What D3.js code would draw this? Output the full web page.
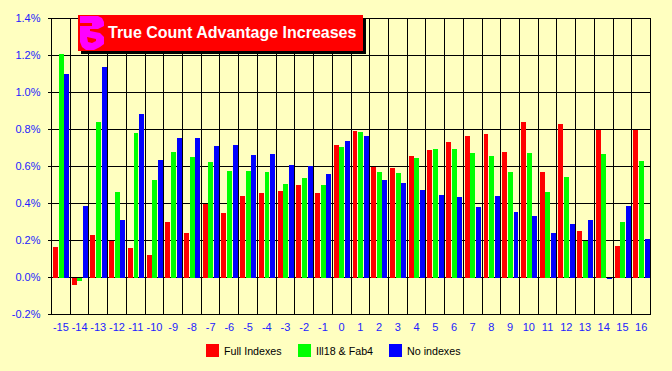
<!DOCTYPE html>
<html>
<head>
  <meta charset="UTF-8" />
  <title>True Count Advantage Increases</title>
  <script src="https://d3js.org/d3.v7.min.js"></script>
  <style>
    body { margin: 0; padding: 0; background: #ffffc0; }
    svg { display: block; }
    text { font-family: "Liberation Sans", Arial, sans-serif; }
  </style>
</head>
<body>
  <div id="chart"></div>
  <script>
    const trueCounts = d3.range(-15, 17).map(String);
    const fullIndexes = [0.165, -0.04, 0.23, 0.20, 0.16, 0.12, 0.30, 0.24, 0.40, 0.35, 0.44, 0.455, 0.47, 0.50, 0.455, 0.715, 0.79, 0.60, 0.59, 0.655, 0.69, 0.73, 0.765, 0.775, 0.68, 0.84, 0.57, 0.83, 0.25, 0.80, 0.17, 0.80];
    const ill18Fab4 = [1.21, -0.02, 0.84, 0.46, 0.78, 0.525, 0.68, 0.65, 0.625, 0.575, 0.575, 0.57, 0.505, 0.54, 0.50, 0.705, 0.785, 0.57, 0.565, 0.645, 0.695, 0.695, 0.675, 0.655, 0.57, 0.675, 0.46, 0.545, 0.195, 0.665, 0.30, 0.63];
    const noIndexes = [1.10, 0.385, 1.14, 0.31, 0.885, 0.635, 0.755, 0.755, 0.71, 0.715, 0.66, 0.665, 0.61, 0.605, 0.56, 0.74, 0.765, 0.525, 0.51, 0.475, 0.445, 0.435, 0.38, 0.44, 0.355, 0.335, 0.24, 0.29, 0.31, -0.01, 0.385, 0.21];
    const seriesNames = ["Full Indexes", "Ill18 & Fab4", "No indexes"];
    const seriesColors = ["#ff0000", "#00ff00", "#0000ff"];
    const yTicks = [-0.2, 0, 0.2, 0.4, 0.6, 0.8, 1.0, 1.2, 1.4];
    const titleText = "True Count Advantage Increases";

    const series = [fullIndexes, ill18Fab4, noIndexes];
    const width = 672, height = 371;
    const margin = { top: 18.5, right: 21.5, bottom: 56.5, left: 51.5 };

    const svg = d3.select("#chart").append("svg")
      .attr("width", width).attr("height", height);

    const x = d3.scaleBand().domain(trueCounts)
      .range([margin.left, width - margin.right]);
    const x1 = d3.scaleBand().domain(d3.range(3))
      .range([1.5, x.bandwidth() - 1]).paddingInner(0.12);
    const y = d3.scaleLinear().domain([-0.2, 1.4])
      .range([height - margin.bottom, margin.top]);

    // grid
    const grid = svg.append("g").attr("stroke", "#000").attr("stroke-width", 1)
      .attr("shape-rendering", "crispEdges");
    grid.selectAll(".h").data(yTicks).enter().append("line")
      .attr("x1", margin.left - 4).attr("x2", width - margin.right)
      .attr("y1", d => y(d)).attr("y2", d => y(d));
    grid.selectAll(".v").data(d3.range(33)).enter().append("line")
      .attr("x1", d => margin.left + d * x.step()).attr("x2", d => margin.left + d * x.step())
      .attr("y1", margin.top).attr("y2", y(-0.2));

    // bars
    series.forEach((vals, s) => {
      svg.append("g").attr("fill", seriesColors[s]).attr("shape-rendering", "crispEdges")
        .selectAll("rect")
        .data(vals).enter().append("rect")
        .attr("x", (d, i) => x(trueCounts[i]) + x1(s))
        .attr("width", x1.bandwidth())
        .attr("y", d => y(Math.max(d, 0)))
        .attr("height", d => Math.abs(y(d) - y(0)));
    });

    // axis labels
    const yAxis = d3.axisLeft(y).tickValues(yTicks)
      .tickFormat(d => d.toFixed(1) + "%").tickSize(0).tickPadding(11);
    svg.append("g").attr("transform", `translate(${margin.left},-0.7)`).call(yAxis)
      .call(g => g.select(".domain").remove())
      .selectAll("text").attr("fill", "#2222ff").style("font-size", "11px");

    const xAxis = d3.axisBottom(x).tickSize(0).tickPadding(9);
    svg.append("g").attr("transform", `translate(0,${y(-0.2)})`).call(xAxis)
      .call(g => g.select(".domain").remove())
      .selectAll("text").attr("fill", "#2222ff").style("font-size", "11px");

    // legend
    const legendX = [206, 298, 389];
    const legend = svg.append("g").selectAll("g").data(seriesNames).enter().append("g")
      .attr("transform", (d, i) => `translate(${legendX[i]},344)`);
    legend.append("rect").attr("width", 13).attr("height", 13)
      .attr("fill", (d, i) => seriesColors[i]);
    legend.append("text").attr("x", 18).attr("y", 10.5)
      .style("font-size", "10.7px").attr("fill", "#000").text(d => d);

    // title box
    svg.append("rect").attr("x", 81).attr("y", 18).attr("width", 285).attr("height", 36).attr("fill", "#000");
    svg.append("rect").attr("x", 78).attr("y", 15).attr("width", 285).attr("height", 36).attr("fill", "#ff0000");
    svg.append("path")
      .attr("d", "M80 16 L98 16 L102 18 L104 22 L104 26 L98 29 L90 29 L90 31 L100 33 L104 37 L104 44 L100 47 L94 50 L86 50 L82 47 L80 42 L80 26 L92 26 L92 23 L80 23 Z M87 37 L96 39 L96 41 L92 43 L88 42 Z")
      .attr("fill", "#ff00ff").attr("fill-rule", "evenodd");
    svg.append("text").attr("x", 108).attr("y", 38)
      .attr("fill", "#fff").style("font-size", "16px").style("font-weight", "bold").text(titleText);
  </script>
</body>
</html>
